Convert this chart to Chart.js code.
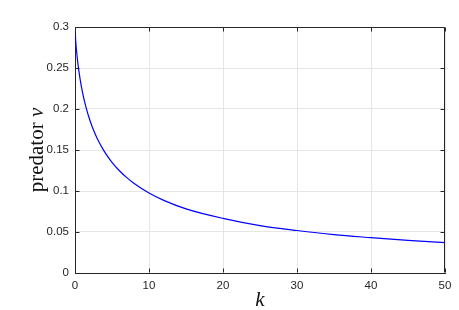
<!DOCTYPE html>
<html><head><meta charset="utf-8">
<script src="https://cdn.jsdelivr.net/npm/chart.js@4"></script>
<style>html,body{margin:0;padding:0;background:#fff}</style>
</head><body>
<canvas id="c" width="459" height="310"></canvas>
<script>
// k values (x) and predator v values (y)
const kValues = [0, 0.1, 0.2, 0.4, 0.7, 1, 1.5, 2, 2.5, 3, 4, 5, 6, 7, 8, 10, 12, 15, 20, 25, 30, 35, 40, 45, 50];
const vValues = [0.3, 0.2826, 0.2716, 0.2548, 0.2358, 0.221, 0.2017, 0.1866, 0.1743, 0.1641, 0.1477, 0.1349, 0.1247, 0.1163, 0.1091, 0.0975, 0.0886, 0.0782, 0.0666, 0.0578, 0.0518, 0.0468, 0.0431, 0.0397, 0.037];
const xTicks = [0, 10, 20, 30, 40, 50];
const yTicks = [0, 0.05, 0.1, 0.15, 0.2, 0.25, 0.3];
const xLabel = 'k';
const yLabelMain = 'predator ';
const yLabelVar = 'v';

const axisColor = '#262626';
const gridColor = '#e6e6e6';
const tickFont = {family: '"Liberation Sans", Arial, sans-serif', size: 11.5};

const boxPlugin = {
  id: 'box',
  afterDraw(chart) {
    const ctx = chart.ctx, a = chart.chartArea;
    const xs = chart.scales.x, ys = chart.scales.y;
    ctx.save();
    ctx.strokeStyle = axisColor;
    ctx.lineWidth = 1;
    const L = Math.round(a.left) + 0.5, R = Math.round(a.right) - 0.5;
    const T = Math.round(a.top) + 0.5, B = Math.round(a.bottom) - 0.5;
    ctx.beginPath();
    ctx.moveTo(L, T); ctx.lineTo(R, T); ctx.lineTo(R, B);
    const tl = 4;
    xTicks.forEach(v => {
      const x = Math.round(xs.getPixelForValue(v)) + 0.5;
      ctx.moveTo(x, B); ctx.lineTo(x, B - tl);
      ctx.moveTo(x, T); ctx.lineTo(x, T + tl);
    });
    yTicks.forEach(v => {
      const y = Math.round(ys.getPixelForValue(v)) + 0.5;
      ctx.moveTo(L, y); ctx.lineTo(L + tl, y);
      ctx.moveTo(R, y); ctx.lineTo(R - tl, y);
    });
    ctx.stroke();

    ctx.fillStyle = '#111';
    ctx.textBaseline = 'alphabetic';
    ctx.textAlign = 'center';
    ctx.font = 'italic 21px "Liberation Serif", "Times New Roman", serif';
    ctx.fillText(xLabel, (a.left + a.right) / 2, 306);

    ctx.translate(43, (a.top + a.bottom) / 2);
    ctx.rotate(-Math.PI / 2);
    ctx.textAlign = 'left';
    const fMain = '21px "Liberation Serif", "Times New Roman", serif';
    const fVar = 'italic 21px "Liberation Serif", "Times New Roman", serif';
    ctx.font = fMain; const w1 = ctx.measureText(yLabelMain).width;
    ctx.font = fVar; const w2 = ctx.measureText(yLabelVar).width;
    const start = -(w1 + w2) / 2;
    ctx.font = fMain; ctx.fillText(yLabelMain, start, 0);
    ctx.font = fVar; ctx.fillText(yLabelVar, start + w1, 0);
    ctx.restore();
  }
};

new Chart(document.getElementById('c'), {
  type: 'line',
  data: {
    datasets: [{
      data: kValues.map((k, i) => ({x: k, y: vValues[i]})),
      borderColor: '#0000ff',
      borderWidth: 1.2,
      pointRadius: 0,
      fill: false,
      cubicInterpolationMode: 'monotone'
    }]
  },
  options: {
    responsive: false,
    animation: false,
    events: [],
    layout: {padding: {top: 27, right: 14, left: 0, bottom: 0}},
    plugins: {legend: {display: false}, tooltip: {enabled: false}},
    scales: {
      x: {
        type: 'linear', min: 0, max: 50,
        afterBuildTicks: s => { s.ticks = xTicks.map(v => ({value: v})); },
        afterFit: s => { s.height = 37; },
        ticks: {color: axisColor, font: tickFont, padding: 6, maxRotation: 0},
        grid: {color: gridColor, drawTicks: false},
        border: {color: axisColor, width: 1}
      },
      y: {
        type: 'linear', min: 0, max: 0.3,
        afterBuildTicks: s => { s.ticks = yTicks.map(v => ({value: v})); },
        afterFit: s => { s.width = 75; },
        ticks: {color: axisColor, font: tickFont, padding: 6, callback: v => String(v)},
        grid: {color: gridColor, drawTicks: false},
        border: {color: axisColor, width: 1}
      }
    }
  },
  plugins: [boxPlugin]
});
</script>
</body></html>
